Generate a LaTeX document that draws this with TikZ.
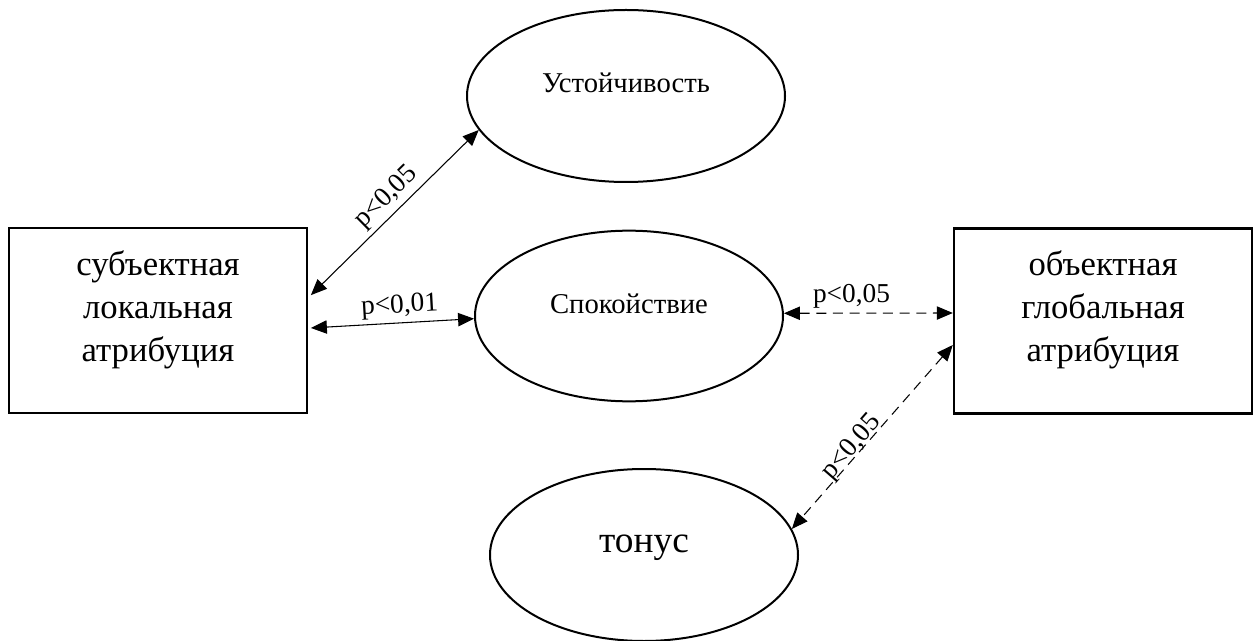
\documentclass[tikz,border=0pt]{standalone}
\usepackage{fontspec}
\setmainfont{Liberation Serif}
\usetikzlibrary{arrows.meta,shapes.geometric}
\begin{document}
\begin{tikzpicture}[x=0.75pt,y=-0.75pt,
 boxst/.style={draw,line width=1.8pt,minimum width=223.5pt,minimum height=138.75pt,inner sep=0pt},
 ell/.style={draw,ellipse,line width=1.5pt,inner sep=0pt},
 boxtext/.style={align=center,font=\fontsize{26}{32.5}\selectfont},
 smalltext/.style={font=\fontsize{21.5}{24}\selectfont},
 bigtext/.style={font=\fontsize{28}{30}\selectfont},
 conn/.style={line width=0.8pt,{Triangle[length=12pt,width=10pt]}-{Triangle[length=12pt,width=10pt]}},
 dconn/.style={conn,dash pattern=on 7.5pt off 5pt},
 lbl/.style={font=\fontsize{20.5}{22}\selectfont,inner sep=1pt}]
\useasboundingbox (0,0) rectangle (1259,641);
% boxes
\node[boxst] (lbox) at (158,320.5) {};
\node[boxtext] (ltext) at (158,310) {субъектная\\локальная\\атрибуция};
\node[boxst] (rbox) at (1103,321) {};
\node[boxtext] (rtext) at (1103,310) {объектная\\глобальная\\атрибуция};
% ellipses
\node[ell,minimum width=238.5pt,minimum height=129pt] (ust) at (626,96) {};
\node[smalltext] (usttext) at (626,83) {Устойчивость};
\node[ell,minimum width=231pt,minimum height=128pt] (spok) at (629,316) {};
\node[smalltext] (spoktext) at (629,304) {Спокойствие};
\node[ell,minimum width=231pt,minimum height=129pt] (ton) at (644,555) {};
\node[bigtext] (tontext) at (644,548) {тонус};
% connectors
\draw[conn] ([xshift=2pt,yshift=19pt]lbox.east) -- node[lbl,pos=0.52,sloped,above=2pt] (l1) {p<0,05} (ust.193);
\draw[conn] ([xshift=2pt,yshift=-5.6pt]lbox.east) -- node[lbl,pos=0.55,sloped,above=2pt] (l2) {p<0,01} (spok.181);
\draw[dconn] (spok.1) -- node[lbl,pos=0.40,above=2pt] (l3) {p<0,05} ([yshift=6pt]rbox.west);
\draw[dconn] ([yshift=-18pt]rbox.west) -- node[lbl,pos=0.587,sloped,above=-4pt] (l4) {p<0,05} (ton.10);
\end{tikzpicture}
\end{document}
